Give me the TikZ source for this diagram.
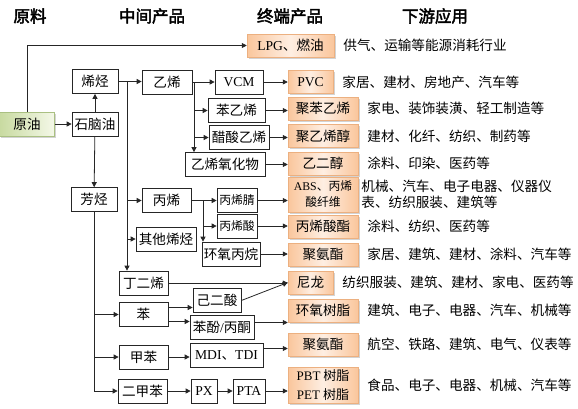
\documentclass[tikz,border=0pt]{standalone}
\usepackage{fontspec}
\setmainfont{Liberation Serif}
\newfontfamily\cjk[AutoFakeBold=2.5]{Noto Sans CJK SC}
\usetikzlibrary{arrows.meta,positioning,shadows}

\definecolor{peachedge}{RGB}{250,198,156}
\definecolor{peachmid}{RGB}{254,238,226}
\definecolor{peachline}{RGB}{236,176,128}
\definecolor{greenedge}{RGB}{200,218,160}
\definecolor{greenmid}{RGB}{244,248,232}
\definecolor{greenline}{RGB}{170,192,130}

\begin{document}
\begin{tikzpicture}[x=1pt,y=-1pt,
  font=\cjk\fontsize{13.6}{15}\selectfont,
  midbox/.style={draw=black!85,line width=0.7pt,fill=white,minimum height=24pt,inner sep=1pt},
  endbox/.style={draw=peachline,line width=0.5pt,left color=peachedge,right color=peachedge,middle color=peachmid,
    drop shadow={shadow xshift=1.5pt,shadow yshift=-1.5pt,opacity=0.35},minimum width=70pt,minimum height=23pt,inner sep=1pt},
  srcbox/.style={draw=greenline,line width=0.5pt,left color=greenedge,right color=greenmid,
    drop shadow={shadow xshift=1.5pt,shadow yshift=-1.5pt,opacity=0.35},minimum height=24pt,inner sep=1pt},
  usetxt/.style={anchor=west,inner sep=0pt},
  head/.style={font=\cjk\bfseries\fontsize{16.5}{18}\selectfont},
  arr/.style={draw=black!85,line width=0.8pt,-{Triangle[length=5pt,width=5pt]}}]
\useasboundingbox (0,0) rectangle (578,408);

\node[head] (h1) at (30,16) {原料};
\node[head] (h2) at (152,16) {中间产品};
\node[head] (h3) at (290,16) {终端产品};
\node[head] (h4) at (435,16) {下游应用};

\node[srcbox,minimum width=55pt] (crude) at (27,124) {原油};
\node[midbox,minimum width=46pt] (naph) at (95,124) {石脑油};
\node[midbox,minimum width=46pt] (olef) at (95,81.5) {烯烃};
\node[midbox,minimum width=46pt] (arom) at (94,199.5) {芳烃};
\node[endbox,minimum width=87pt] (lpg) at (290.5,45.5) {\textrm{LPG}、燃油};

\node[midbox,minimum width=50pt] (eth) at (167,82) {乙烯};
\node[midbox,minimum width=48pt] (vcm) at (239,82) {\textrm{VCM}};
\node[midbox,minimum width=57pt] (sty) at (236.5,110.5) {苯乙烯};
\node[midbox,minimum width=60pt] (vac) at (239,137.5) {醋酸乙烯};
\node[midbox,minimum width=80pt] (eo) at (225,164.5) {乙烯氧化物};
\node[midbox,minimum width=49pt] (prop) at (166.5,200.5) {丙烯};
\node[midbox,minimum width=60pt] (oth) at (166,239) {其他烯烃};
\node[midbox,minimum width=40pt,font=\cjk\fontsize{11.8}{13}\selectfont] (acn) at (237,200.5) {丙烯腈};
\node[midbox,minimum width=40pt,font=\cjk\fontsize{11.8}{13}\selectfont] (acry) at (237,226) {丙烯酸};
\node[midbox,minimum width=58pt] (po) at (231,254) {环氧丙烷};
\node[midbox,minimum width=49pt] (bd) at (143.5,283) {丁二烯};
\node[midbox,minimum width=49pt] (bz) at (143.5,314.5) {苯};
\node[midbox,minimum width=48pt] (adip) at (217,300.5) {己二酸};
\node[midbox,minimum width=64pt] (phen) at (222,327.5) {苯酚\textrm{/}丙酮};
\node[midbox,minimum width=49pt] (tol) at (143.5,357) {甲苯};
\node[midbox,minimum width=73pt] (mdi) at (226.5,355.5) {\textrm{MDI}、\textrm{TDI}};
\node[midbox,minimum width=49pt] (xyl) at (142.5,391) {二甲苯};
\node[midbox,minimum width=26pt] (px) at (204,391) {\textrm{PX}};
\node[midbox,minimum width=32pt] (pta) at (249,391) {\textrm{PTA}};

\node[endbox,minimum width=45pt] (pvc) at (310.5,82) {\textrm{PVC}};
\node[endbox] (ps) at (323,108.5) {聚苯乙烯};
\node[endbox] (pva) at (323,136) {聚乙烯醇};
\node[endbox] (eg) at (323,163.5) {乙二醇};
\node[endbox,minimum height=35pt,align=center,font=\cjk\fontsize{11.8}{16}\selectfont] (abs) at (323,194.5) {\textrm{ABS}、丙烯\\酸纤维};
\node[endbox] (acr) at (323,226.5) {丙烯酸酯};
\node[endbox] (pu1) at (323,254.5) {聚氨酯};
\node[endbox,minimum width=45pt] (nylon) at (310.5,282.5) {尼龙};
\node[endbox] (epoxy) at (323,310.5) {环氧树脂};
\node[endbox] (pu2) at (323,344.5) {聚氨酯};
\node[endbox,minimum height=36pt,align=center,font=\cjk\fontsize{13}{19}\selectfont] (pbt) at (323,385) {\textrm{PBT} 树脂\\\textrm{PET} 树脂};

\node[usetxt,right=9pt of lpg] (u0) {供气、运输等能源消耗行业};
\node[usetxt,right=9pt of pvc] (u1) {家居、建材、房地产、汽车等};
\node[usetxt,right=9pt of ps] (u2) {家电、装饰装潢、轻工制造等};
\node[usetxt,right=9pt of pva] (u3) {建材、化纤、纺织、制药等};
\node[usetxt,right=9pt of eg] (u4) {涂料、印染、医药等};
\node[usetxt,right=3pt of abs,align=left,font=\cjk\fontsize{13.6}{16}\selectfont] (u5) {机械、汽车、电子电器、仪器仪\\表、纺织服装、建筑等};
\node[usetxt,right=9pt of acr] (u6) {涂料、纺织、医药等};
\node[usetxt,right=9pt of pu1] (u7) {家居、建筑、建材、涂料、汽车等};
\node[usetxt,right=9pt of nylon] (u8) {纺织服装、建筑、建材、家电、医药等};
\node[usetxt,right=9pt of epoxy] (u9) {建筑、电子、电器、汽车、机械等};
\node[usetxt,right=9pt of pu2] (u10) {航空、铁路、建筑、电气、仪表等};
\node[usetxt,right=9pt of pbt] (u11) {食品、电子、电器、机械、汽车等};

\draw[arr] (crude.north) |- (lpg.west);
\draw[arr] (crude) -- (naph);
\draw[arr] (naph) -- (olef);
\draw[arr] (naph) -- (arom);
\draw[arr] (olef.east) -- (olef.east -| eth.west);
\coordinate (ot) at (127,81.5);
\draw[arr] (ot) -- (ot |- bd.north);
\draw[arr] (ot |- prop) -- (prop);
\draw[arr] (ot |- oth) -- (oth);

\draw[arr] (eth) -- (vcm);
\coordinate (et) at (194,82);
\draw[arr] (et) -- (et |- eo.north);
\draw[arr] (et |- sty) -- (sty);
\draw[arr] (et |- vac) -- (vac);

\draw[arr] (prop) -- (acn);
\coordinate (pt) at (203,200.5);
\draw[arr] (pt) -- (pt |- po.north);
\draw[arr] (pt |- acry) -- (acry);

\draw[arr] (arom.south) |- (xyl);
\draw[arr] (arom.south |- bz) -- (bz);
\draw[arr] (arom.south |- tol) -- (tol);
\draw[arr] ([yshift=7pt]bz.east) -- ([yshift=7pt]bz.east -| adip.west);
\draw[arr] ([yshift=-7pt]bz.east) -- ([yshift=-7pt]bz.east -| phen.west);
\draw[arr] (tol.east) -- (tol.east -| mdi.west);
\draw[arr] (xyl) -- (px);
\draw[arr] (px) -- (pta);

\draw[arr] (vcm) -- (pvc);
\draw[arr] (sty.east) -- (sty.east -| ps.west);
\draw[arr] (vac.east) -- (vac.east -| pva.west);
\draw[arr] (eo.east) -- (eo.east -| eg.west);
\draw[arr] (acn.east) -- (acn.east -| abs.west);
\draw[arr] (acry.east) -- (acry.east -| acr.west);
\draw[arr] (po.east) -- (po.east -| pu1.west);
\draw[arr] (bd.east) -- (bd.east -| nylon.west);
\draw[arr] (adip.east) -- (nylon.west);
\draw[arr] ([yshift=5pt]phen.east) -- ([yshift=5pt]phen.east -| epoxy.west);
\draw[arr] ([yshift=7pt]mdi.east) -- ([yshift=7pt]mdi.east -| pu2.west);
\draw[arr] (pta.east) -- (pta.east -| pbt.west);
\end{tikzpicture}
\end{document}
